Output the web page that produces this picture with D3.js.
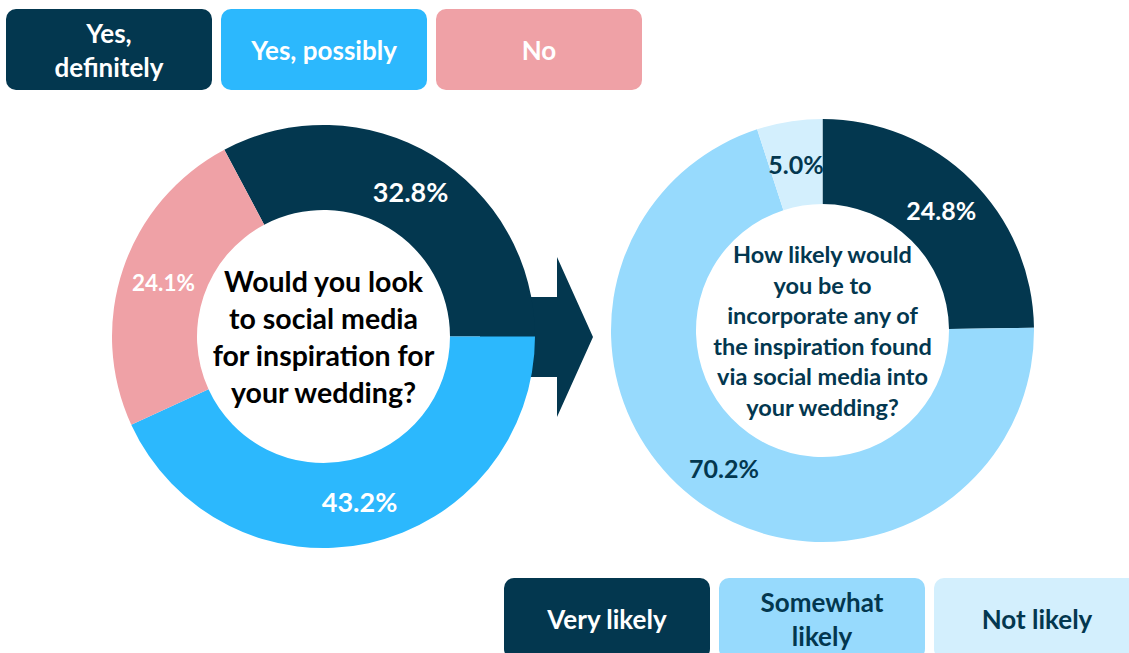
<!DOCTYPE html>
<html>
<head>
<meta charset="utf-8">
<script src="https://cdn.jsdelivr.net/npm/d3@7"></script>
<style>
  html, body { margin: 0; padding: 0; background: #fff; }
  svg { display: block; font-family: Lato, "Open Sans", sans-serif; font-weight: 700; }
</style>
</head>
<body>
<svg id="chart" width="1129" height="653"></svg>
<script>
// Left donut: "Would you look to social media for inspiration for your wedding?"
const leftCategories = ['Yes, definitely', 'Yes, possibly', 'No'];
const leftValues = [32.8, 43.2, 24.1];
const leftQuestion = ['Would you look', 'to social media', 'for inspiration for', 'your wedding?'];
const leftLegendLines = [['Yes,', 'definitely'], ['Yes, possibly'], ['No']];

// Right donut: "How likely would you be to incorporate ..."
const rightCategories = ['Very likely', 'Somewhat likely', 'Not likely'];
const rightValues = [24.8, 70.2, 5.0];
const rightQuestion = ['How likely would', 'you be to', 'incorporate any of', 'the inspiration found', 'via social media into', 'your wedding?'];
const rightLegendLines = [['Very likely'], ['Somewhat', 'likely'], ['Not likely']];

const navy = '#03374f';

const leftColor = d3.scaleOrdinal()
  .domain(leftCategories)
  .range([navy, '#2cb8fd', '#efa1a6']);
const leftText = d3.scaleOrdinal()
  .domain(leftCategories)
  .range(['#fff', '#fff', '#fff']);

const rightColor = d3.scaleOrdinal()
  .domain(rightCategories)
  .range([navy, '#97dafd', '#d3effd']);
const rightText = d3.scaleOrdinal()
  .domain(rightCategories)
  .range(['#fff', navy, navy]);

const svg = d3.select('#chart');

const leftData = leftCategories.map((c, i) => ({ category: c, value: leftValues[i] }));
const rightData = rightCategories.map((c, i) => ({ category: c, value: rightValues[i] }));

// arrow between the two donuts (drawn first, sits behind the left ring)
const arrow = svg.append('g');
arrow.append('path')
  .attr('d', d3.line()([[480, 297], [557, 297], [557, 257], [593, 337], [557, 417], [557, 377], [480, 377]]))
  .attr('fill', navy);

function donut(cx, cy, outer, inner, data, color, textColor, order, startAngle, labelSize) {
  const pie = d3.pie()
    .value((d) => d.value)
    .sort((a, b) => order.indexOf(a.category) - order.indexOf(b.category))
    .startAngle(startAngle)
    .endAngle(startAngle + 2 * Math.PI);

  const arc = d3.arc().innerRadius(inner).outerRadius(outer);
  const labelArc = d3.arc().innerRadius(inner + 42).outerRadius(outer - 42);

  const g = svg.append('g').attr('transform', `translate(${cx}, ${cy})`);

  const arcs = pie(data);

  g.selectAll('path')
    .data(arcs)
    .enter()
    .append('path')
    .attr('d', arc)
    .attr('fill', (d) => color(d.data.category));

  g.selectAll('text')
    .data(arcs)
    .enter()
    .append('text')
    .text((d) => `${d.data.value.toFixed(1)}%`)
    .attr('x', (d) => labelArc.centroid(d)[0])
    .attr('y', (d) => labelArc.centroid(d)[1])
    .attr('text-anchor', 'middle')
    .attr('dominant-baseline', 'central')
    .attr('fill', (d) => textColor(d.data.category))
    .attr('font-size', (d) => labelSize(d));

  return g;
}

function question(g, lines, size, step, fill) {
  const top = -((lines.length - 1) * step) / 2;
  g.append('g')
    .selectAll('text')
    .data(lines)
    .enter()
    .append('text')
    .text((d) => d)
    .attr('x', 0)
    .attr('y', (d, i) => top + i * step)
    .attr('text-anchor', 'middle')
    .attr('dominant-baseline', 'central')
    .attr('font-size', size)
    .attr('fill', fill);
}

// left donut: clockwise from 3 o'clock -> Yes, possibly / No / Yes, definitely
const leftG = donut(323.5, 336.5, 211.5, 126.5, leftData, leftColor, leftText,
  ['Yes, possibly', 'No', 'Yes, definitely'], Math.PI / 2,
  (d) => (d.data.category === 'No' ? 22.5 : 27));
question(leftG, leftQuestion, 28.5, 37, '#000');

// right donut: clockwise from 12 o'clock
const rightG = donut(822.5, 330.5, 211.5, 126.5, rightData, rightColor, rightText,
  rightCategories, 0, () => 25);
question(rightG, rightQuestion, 23.5, 30.6, navy);

function legend(x0, y0, boxW, boxH, gap, categories, lines, color, textColor, size) {
  const n = categories.length;
  const xScale = d3.scaleBand()
    .domain(categories)
    .range([x0, x0 + n * boxW + (n - 1) * gap])
    .paddingInner(gap / (boxW + gap))
    .paddingOuter(0);

  const g = svg.append('g');
  const items = g.selectAll('g')
    .data(categories)
    .enter()
    .append('g')
    .attr('transform', (d) => `translate(${xScale(d)}, ${y0})`);

  items.append('rect')
    .attr('width', xScale.bandwidth())
    .attr('height', boxH)
    .attr('rx', 10)
    .attr('fill', (d) => color(d));

  items.each(function (d, i) {
    const ls = lines[i];
    const step = 34;
    const top = 41 - ((ls.length - 1) * step) / 2;
    d3.select(this).selectAll('text')
      .data(ls)
      .enter()
      .append('text')
      .text((t) => t)
      .attr('x', xScale.bandwidth() / 2)
      .attr('y', (t, j) => top + j * step)
      .attr('text-anchor', 'middle')
      .attr('dominant-baseline', 'central')
      .attr('font-size', size)
      .attr('fill', textColor(d));
  });
}

legend(6, 9, 206, 81, 9, leftCategories, leftLegendLines, leftColor, leftText, 26);
legend(504, 578, 206, 81, 9, rightCategories, rightLegendLines, rightColor, rightText, 26);
</script>
</body>
</html>
